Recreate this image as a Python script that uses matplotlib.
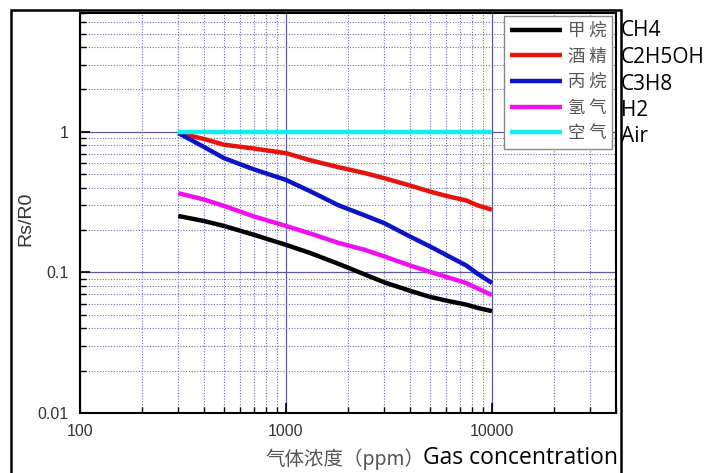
import matplotlib
matplotlib.use('Agg')
import matplotlib.pyplot as plt
from matplotlib.patches import Rectangle
from matplotlib.ticker import LogLocator, FixedLocator, NullFormatter

# concentration (ppm) and Rs/R0 readings
conc = [300, 400, 500, 700, 1000, 1300, 1800, 2400, 3000, 4000, 5000, 6000, 7500, 8500, 10000]
ch4 = [0.252, 0.232, 0.214, 0.185, 0.157, 0.138, 0.115, 0.097, 0.085, 0.074, 0.067, 0.063, 0.059, 0.056, 0.053]
alcohol = [0.98, 0.89, 0.81, 0.76, 0.705, 0.63, 0.56, 0.51, 0.468, 0.415, 0.376, 0.35, 0.325, 0.30, 0.279]
propane = [0.98, 0.78, 0.65, 0.54, 0.455, 0.38, 0.30, 0.255, 0.224, 0.18, 0.153, 0.133, 0.112, 0.098, 0.084]
h2 = [0.366, 0.33, 0.297, 0.25, 0.214, 0.19, 0.162, 0.145, 0.130, 0.112, 0.101, 0.093, 0.084, 0.077, 0.069]
air = [1.0] * len(conc)

names_cn = ['甲 烷', '酒 精', '丙 烷', '氢 气', '空 气']
names_en = ['CH4', 'C2H5OH', 'C3H8', 'H2', 'Air']
colors = ['black', '#e8120c', '#0a14c8', '#ee10ee', '#10eef0']
series = [ch4, alcohol, propane, h2, air]

x_ticks = [100, 1000, 10000]
y_ticks = [0.01, 0.1, 1]

W, H = 707, 473
fig = plt.figure(figsize=(W / 100, H / 100), dpi=100)
ax = fig.add_axes([80 / W, 1 - 413 / H, 536 / W, 400 / H])

for s, c, n in zip(series, colors, names_cn):
    ax.plot(conc, s, color=c, lw=3.2, label=n, solid_capstyle='butt',
            solid_joinstyle='round')

ax.set_xscale('log')
ax.set_yscale('log')
ax.set_xlim(100, 40000)
ax.set_ylim(0.01, 7)

ax.xaxis.set_major_locator(FixedLocator(x_ticks))
ax.yaxis.set_major_locator(FixedLocator(y_ticks))
ax.set_xticklabels([str(v) for v in x_ticks])
ax.set_yticklabels(['0.01', '0.1', '1'])
ax.xaxis.set_minor_locator(LogLocator(base=10, subs=range(2, 10)))
ax.yaxis.set_minor_locator(LogLocator(base=10, subs=range(2, 10)))
ax.xaxis.set_minor_formatter(NullFormatter())
ax.yaxis.set_minor_formatter(NullFormatter())

ax.grid(True, which='major', color='#5c5c9c', lw=0.9, ls='-')
ax.grid(True, which='minor', color='#7070a8', lw=0.8, ls=(0, (1, 1.5)))
ax.set_axisbelow(True)

ax.tick_params(which='both', direction='in', top=False, right=False,
               colors='black', labelcolor='#333333', labelsize=11.5,
               labelfontfamily='Liberation Sans')
ax.tick_params(which='major', length=7, width=1.2, pad=8)
ax.tick_params(which='minor', length=4, width=1.0)
for sp in ax.spines.values():
    sp.set_linewidth(1.5)

fig.text(26 / W, 1 - 219 / H, 'Rs/R0', fontsize=14, color='#333333',
         family='Liberation Sans', rotation=90, ha='center', va='center')

leg = ax.legend(loc='upper right', bbox_to_anchor=(0.993, 0.993),
                borderaxespad=0, handlelength=3.0, handletextpad=0.3,
                labelspacing=0.44, borderpad=0.35, fancybox=False,
                framealpha=1, edgecolor='#888888',
                prop={'family': ['Noto Sans CJK SC', 'DejaVu Sans'], 'size': 12.5})
leg.get_frame().set_linewidth(1.0)
for t in leg.get_texts():
    t.set_color('#555555')
for l in leg.get_lines():
    l.set_linewidth(3.2)

# english names next to the legend
for i, n in enumerate(names_en):
    fig.text(621 / W, 1 - (31 + i * 26.5) / H, n, fontsize=15,
             family='Open Sans', color='black', ha='left', va='center')

# axis title in two parts
fig.text(265 / W, 1 - 459 / H, '气体浓度（ppm）', fontsize=14,
         family=['Noto Sans CJK SC', 'DejaVu Sans'], color='#555555',
         ha='left', va='center')
fig.text(423 / W, 1 - 458 / H, 'Gas concentration', fontsize=16.5,
         family='Open Sans', color='black', ha='left', va='center')

# outer frame
fig.patches.append(Rectangle((10.5 / W, -0.05), 610 / W, 1 - 10.5 / H + 0.05,
                             transform=fig.transFigure, fill=False,
                             edgecolor='black', lw=1.8, clip_on=False))

fig.savefig('out.png', dpi=100)
